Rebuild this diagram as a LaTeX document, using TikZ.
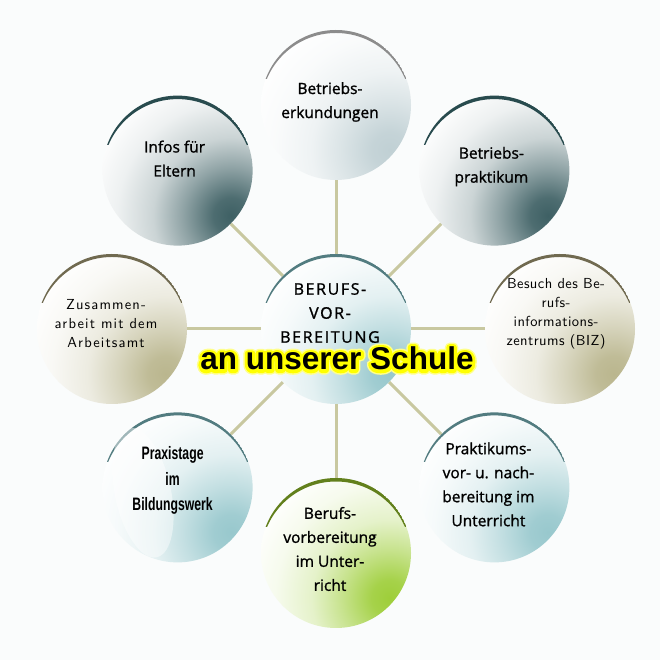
\documentclass[tikz,border=0pt]{standalone}
\usepackage{fontspec}
\setmainfont{Open Sans}[FakeBold=1.2]
\newfontfamily\boldarial{Liberation Sans}
\newfontfamily\narrowfont{Liberation Sans}[FakeStretch=0.68]
\newfontfamily\thinfont{lmsans10-regular.otf}[LetterSpace=3]
\newfontfamily\thinwidefont{lmsans10-regular.otf}[LetterSpace=8]
\usetikzlibrary{calc}

\definecolor{bg}{RGB}{250,252,252}
\definecolor{conn}{RGB}{200,200,160}
\definecolor{cDark}{RGB}{62,96,100}
\definecolor{rDark}{RGB}{40,75,78}
\definecolor{cGrey}{RGB}{192,208,212}
\definecolor{rGrey}{RGB}{140,140,140}
\definecolor{cKhaki}{RGB}{186,182,142}
\definecolor{rKhaki}{RGB}{112,106,80}
\definecolor{cTeal}{RGB}{152,200,205}
\definecolor{rTeal}{RGB}{82,124,128}
\definecolor{cGreen}{RGB}{158,206,58}
\definecolor{rGreen}{RGB}{98,128,28}

\newcommand\mkball[2]{\pgfdeclareradialshading{ball#1}{\pgfpointorigin}{color(0bp)=(#2); color(3bp)=(#2!92!white); color(8bp)=(#2!58!white); color(13bp)=(#2!27!white); color(19bp)=(#2!9!white); color(25bp)=(white); color(50bp)=(white)}}
\mkball{Dark}{cDark}
\mkball{Grey}{cGrey}
\mkball{Khaki}{cKhaki}
\mkball{Teal}{cTeal}
\mkball{Green}{cGreen}

% text with a yellow outline drawn by stroking the glyphs
\newcommand\glowtext[1]{\rlap{\special{pdf:literal direct 1 Tr 9 w 1 j 1 J 1 1 0.55 RG}#1}\rlap{\special{pdf:literal direct 1 Tr 6 w 1 j 1 J 1 1 0 RG}#1}\special{pdf:literal direct 0 Tr}#1}

\tikzset{
  ball/.style n args={3}{circle, minimum size=150pt, inner sep=0pt, path picture={
     \coordinate (pc) at (path picture bounding box.center);
     \shade[shading=ball#1] ($(pc)+(-40:70pt)$) circle (150pt);
     \begin{scope}
       \clip ($(pc)+(-80pt,26pt)$) rectangle ($(pc)+(80pt,80pt)$);
       \fill[#2, even odd rule] (pc) circle (75pt) ($(pc)+(0pt,-#3)$) circle (75pt);
     \end{scope}
  }},
  conn/.style={draw=conn, line width=3pt},
  comic/.style={font=\fontsize{15.5}{24}\selectfont, align=center, inner sep=0pt, text=black},
  capsfont/.style={font=\fontsize{16}{24}\selectfont\addfontfeatures{LetterSpace=10}, align=center, inner sep=0pt, text=black},
  thin/.style={font=\thinfont\fontsize{14.5}{19}\selectfont, align=center, inner sep=0pt, text=black},
  thinwide/.style={font=\thinwidefont\fontsize{14.5}{19}\selectfont, align=center, inner sep=0pt, text=black},
  narrow/.style={font=\narrowfont\bfseries\fontsize{18}{25.5}\selectfont, align=center, inner sep=0pt, text=black},
  schule/.style={font=\boldarial\bfseries\fontsize{31.5}{31.5}\selectfont, inner sep=0pt, anchor=base, text=black},
}

\begin{document}
\begin{tikzpicture}[x=1pt,y=1pt]
\useasboundingbox (0,0) rectangle (660,660);
\fill[bg] (0,0) rectangle (660,660);
\coordinate (mid) at (336,331);

% circles
\node[ball={Teal}{rTeal}{3pt}]   (c)  at (mid) {};
\node[ball={Grey}{rGrey}{3pt}]   (n)  at ($(mid)+(90:224)$) {};
\node[ball={Dark}{rDark}{3.5pt}] (ne) at ($(mid)+(45:224)$) {};
\node[ball={Khaki}{rKhaki}{3pt}] (e)  at ($(mid)+(0:224)$) {};
\node[ball={Teal}{rTeal}{3pt}]   (se) at ($(mid)+(-45:224)$) {};
\node[ball={Green}{rGreen}{3.5pt}] (s) at ($(mid)+(-90:224)$) {};
\node[ball={Teal}{rTeal}{3pt}]   (sw) at ($(mid)+(-135:224)$) {};
\node[ball={Khaki}{rKhaki}{3pt}] (w)  at ($(mid)+(180:224)$) {};
\node[ball={Dark}{rDark}{3.5pt}] (nw) at ($(mid)+(135:224)$) {};

% swoosh on Praxistage
\begin{scope}
  \clip (sw) circle (75pt);
  \fill[white, opacity=.45, rotate around={12:($(sw)+(-35,2)$)}] ($(sw)+(-35,2)$) ellipse (28pt and 66pt);
\end{scope}

% connectors
\foreach \t in {n,ne,e,se,s,sw,w,nw} \draw[conn] (c) -- (\t);

% "an unserer Schule" with yellow glow
\node[schule] (sch) at (337,290) {\glowtext{an unserer Schule}};

% texts
\node[comic] (tn)  at ($(n)+(-6,3)$)   {Betriebs-\\erkundungen};
\node[comic] (tne) at ($(ne)+(-3,4)$)  {Betriebs-\\praktikum};
\node[thin]  (te)  at ($(e)+(-4,15)$)  {Besuch des Be-\\rufs-\\informations-\\zentrums (BIZ)};
\node[comic] (tse) at ($(se)+(-6,3)$)  {Praktikums-\\vor- u. nach-\\bereitung im\\Unterricht};
\node[comic] (ts)  at ($(s)+(-6,4)$)   {Berufs-\\vorbereitung\\im Unter-\\richt};
\node[narrow] (tsw) at ($(sw)+(-5,7)$) {Praxistage\\im\\Bildungswerk};
\node[thinwide] (tw) at ($(w)+(-6,5)$) {Zusammen-\\arbeit mit dem\\Arbeitsamt};
\node[comic] (tnw) at ($(nw)+(-3,12)$) {Infos für\\Eltern};
\node[capsfont] (tc) at ($(c)+(-6,16)$) {BERUFS-\\VOR-\\BEREITUNG};
\end{tikzpicture}
\end{document}
